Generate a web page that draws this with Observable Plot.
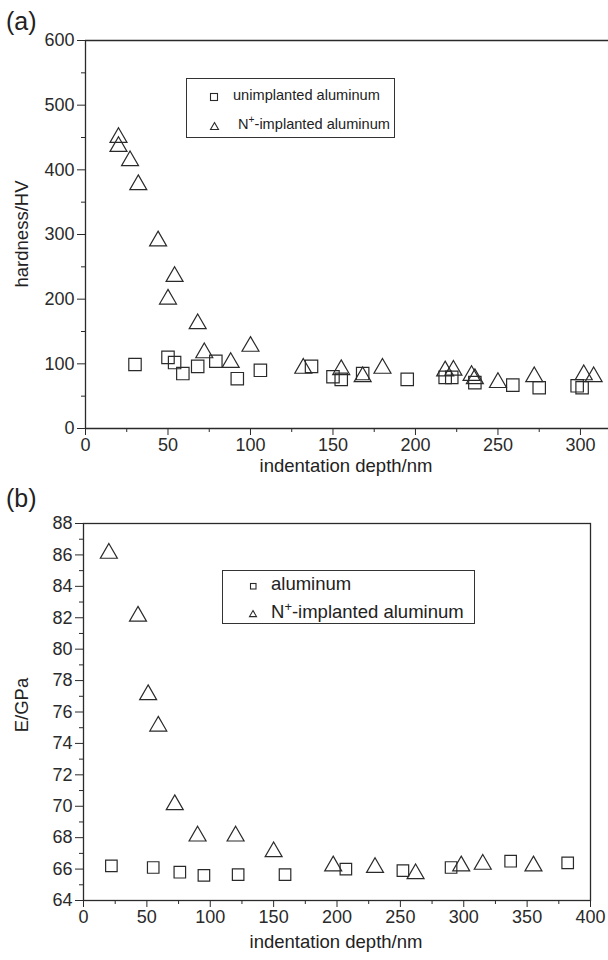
<!DOCTYPE html>
<html><head><meta charset="utf-8">
<script src="https://cdn.jsdelivr.net/npm/d3@7"></script>
<script src="https://cdn.jsdelivr.net/npm/@observablehq/plot@0.6"></script>
<style>
html,body{margin:0;padding:0;background:#fff;}
#wrap{position:relative;width:608px;height:960px;font-family:"Liberation Sans",Arial,sans-serif;color:#222;overflow:hidden;}
.panel{position:absolute;left:0;}
.plab{position:absolute;font-size:25px;line-height:1;}
.axlab{position:absolute;font-size:18.5px;line-height:1;white-space:nowrap;}
.legend{position:absolute;border:1.3px solid #333;background:#fff;box-sizing:border-box;}
.row{position:absolute;white-space:nowrap;line-height:1;}
.sym{position:absolute;}
sup{font-size:0.7em;vertical-align:0.55em;line-height:0;}
</style></head>
<body><div id="wrap"></div>
<script>
// ---- Panel (a): hardness ----
const hardUnimpX = [30, 50, 54, 59, 68, 79, 92, 106, 137, 150, 155, 168, 195, 218, 222, 236, 259, 275, 298, 301];
const hardUnimpY = [99, 110, 102, 85, 96, 104, 77, 90, 96, 80, 76, 85, 76, 79, 79, 71, 67, 63, 66, 63];
const hardImpX = [20, 20, 27, 32, 44, 54, 50, 68, 72, 88, 100, 132, 155, 168, 180, 218, 223, 234, 236, 250, 272, 302, 308];
const hardImpY = [450, 436, 414, 377, 290, 235, 200, 162, 117, 102, 127, 93, 91, 80, 93, 89, 90, 82, 77, 71, 80, 83, 80];
const aXTicks = [0, 50, 100, 150, 200, 250, 300];
const aXMinor = [25, 75, 125, 175, 225, 275];
const aYTicks = [0, 100, 200, 300, 400, 500, 600];
const aYMinor = [50, 150, 250, 350, 450, 550];

// ---- Panel (b): modulus ----
const modAlX = [22, 55, 76, 95, 122, 159, 207, 252, 290, 337, 382];
const modAlY = [66.2, 66.1, 65.8, 65.6, 65.65, 65.65, 66.0, 65.9, 66.1, 66.5, 66.4];
const modImpX = [20, 43, 51, 59, 72, 90, 120, 150, 197, 230, 262, 298, 315, 355];
const modImpY = [86.1, 82.1, 77.1, 75.1, 70.1, 68.1, 68.1, 67.1, 66.2, 66.1, 65.7, 66.2, 66.3, 66.2];
const bXTicks = [0, 50, 100, 150, 200, 250, 300, 350, 400];
const bXMinor = [25, 75, 125, 175, 225, 275, 325, 375];
const bYTicks = [64, 66, 68, 70, 72, 74, 76, 78, 80, 82, 84, 86, 88];
const bYMinor = [65, 67, 69, 71, 73, 75, 77, 79, 81, 83, 85, 87];

const xTitle = "indentation depth/nm";
const yTitleA = "hardness/HV";
const yTitleB = "E/GPa";
const legendA = ["unimplanted aluminum", "-implanted aluminum"];
const legendB = ["aluminum", "-implanted aluminum"];

const pts = (xs, ys) => xs.map((x, i) => ({x, y: ys[i]}));
const INK = "#2a2a2a";
const style = {fontSize: "18px", fontFamily: "'Liberation Sans', Arial, sans-serif", color: INK, background: "transparent", overflow: "visible"};

const wrap = document.getElementById("wrap");

function axes(xT, xM, yT, yM) {
  return [
    Plot.axisX(xT, {tickSize: 7, tickPadding: 3, stroke: INK, fill: INK, label: null}),
    Plot.axisX(xM, {tickSize: 4, tickFormat: () => "", stroke: INK, label: null}),
    Plot.axisY(yT, {tickSize: 8, tickPadding: 3, stroke: INK, fill: INK, label: null}),
    Plot.axisY(yM, {tickSize: 4, tickFormat: () => "", stroke: INK, label: null})
  ];
}

// Panel (a)
const plotA = Plot.plot({
  width: 608, height: 478,
  marginLeft: 85, marginRight: 0, marginTop: 40, marginBottom: 50,
  style,
  x: {domain: [0, 317]},
  y: {domain: [0, 600]},
  marks: [
    ...axes(aXTicks, aXMinor, aYTicks, aYMinor),
    Plot.ruleY([0, 600], {stroke: INK, strokeWidth: 1.3}),
    Plot.ruleX([0], {stroke: INK, strokeWidth: 1.3}),
    Plot.dot(pts(hardUnimpX, hardUnimpY), {x: "x", y: "y", symbol: "square", r: 7, stroke: INK, fill: "none", strokeWidth: 1.2}),
    Plot.dot(pts(hardImpX, hardImpY), {x: "x", y: "y", symbol: "triangle", r: 6.3, stroke: INK, fill: "none", strokeWidth: 1.2})
  ]
});
plotA.classList.add("panel");
plotA.style.top = "0px";
wrap.appendChild(plotA);

// Panel (b)
const plotB = Plot.plot({
  width: 608, height: 482,
  marginLeft: 83, marginRight: 18, marginTop: 45, marginBottom: 60,
  style,
  x: {domain: [0, 400]},
  y: {domain: [64, 88]},
  marks: [
    ...axes(bXTicks, bXMinor, bYTicks, bYMinor),
    Plot.frame({stroke: INK, strokeWidth: 1.3}),
    Plot.dot(pts(modAlX, modAlY), {x: "x", y: "y", symbol: "square", r: 6.5, stroke: INK, fill: "none", strokeWidth: 1.2}),
    Plot.dot(pts(modImpX, modImpY), {x: "x", y: "y", symbol: "triangle", r: 6.3, stroke: INK, fill: "none", strokeWidth: 1.2})
  ]
});
plotB.classList.add("panel");
plotB.style.top = "478px";
wrap.appendChild(plotB);

function div(cls, html, css) {
  const d = document.createElement("div");
  d.className = cls; d.innerHTML = html;
  Object.assign(d.style, css);
  wrap.appendChild(d);
  return d;
}
// panel letters
div("plab", "(a)", {left: "6px", top: "9px"});
div("plab", "(b)", {left: "6px", top: "486px"});
// axis titles
div("axlab", xTitle, {left: "346px", top: "457px", transform: "translateX(-50%)"});
div("axlab", xTitle, {left: "336px", top: "933px", transform: "translateX(-50%)"});
div("axlab", yTitleA, {left: "22px", top: "234px", transform: "translate(-50%,-50%) rotate(-90deg)"});
div("axlab", yTitleB, {left: "22px", top: "705px", transform: "translate(-50%,-50%) rotate(-90deg)"});

// legends
function sq(s) { return '<svg class="sym" width="' + (s + 3) + '" height="' + (s + 3) + '"><rect x="1.5" y="1.5" width="' + s + '" height="' + s + '" fill="none" stroke="' + INK + '" stroke-width="1.1"/></svg>'; }
function tr(s) { const h = s * 0.87; return '<svg class="sym" width="' + (s + 3) + '" height="' + (h + 3) + '"><path d="M' + (1.5 + s / 2) + ',1.5 L' + (1.5 + s) + ',' + (1.5 + h) + ' L1.5,' + (1.5 + h) + ' Z" fill="none" stroke="' + INK + '" stroke-width="1.1"/></svg>'; }
function legend(box, fs, items, symCx, symS, txtX, rowCy) {
  const L = div("legend", "", {left: box[0] + "px", top: box[1] + "px", width: (box[2] - box[0]) + "px", height: (box[3] - box[1]) + "px"});
  items.forEach((it, i) => {
    const s = symS[i];
    const svg = (i === 0 ? sq(s) : tr(s));
    const sd = document.createElement("div");
    sd.innerHTML = svg;
    const el = sd.firstChild;
    el.style.left = (symCx - s / 2 - 1.5) + "px";
    el.style.top = (rowCy[i] - (i === 0 ? s : s * 0.87) / 2 - 1.5) + "px";
    L.appendChild(el);
    const r = document.createElement("div");
    r.className = "row";
    r.style.fontSize = fs + "px";
    r.style.left = txtX[i] + "px";
    r.style.top = (rowCy[i] - fs * 0.6) + "px";
    r.innerHTML = (i === 1 ? 'N<sup>+</sup>' : '') + it;
    L.appendChild(r);
  });
}
// box coords are page pixels; inner coords relative to box
legend([186, 78, 395, 138], 14.6, legendA, 27, [7, 8], [46, 51], [18, 47]);
legend([222, 570, 475, 624], 18.5, legendB, 30, [5.5, 7], [48, 48], [15, 43]);
</script></body></html>
